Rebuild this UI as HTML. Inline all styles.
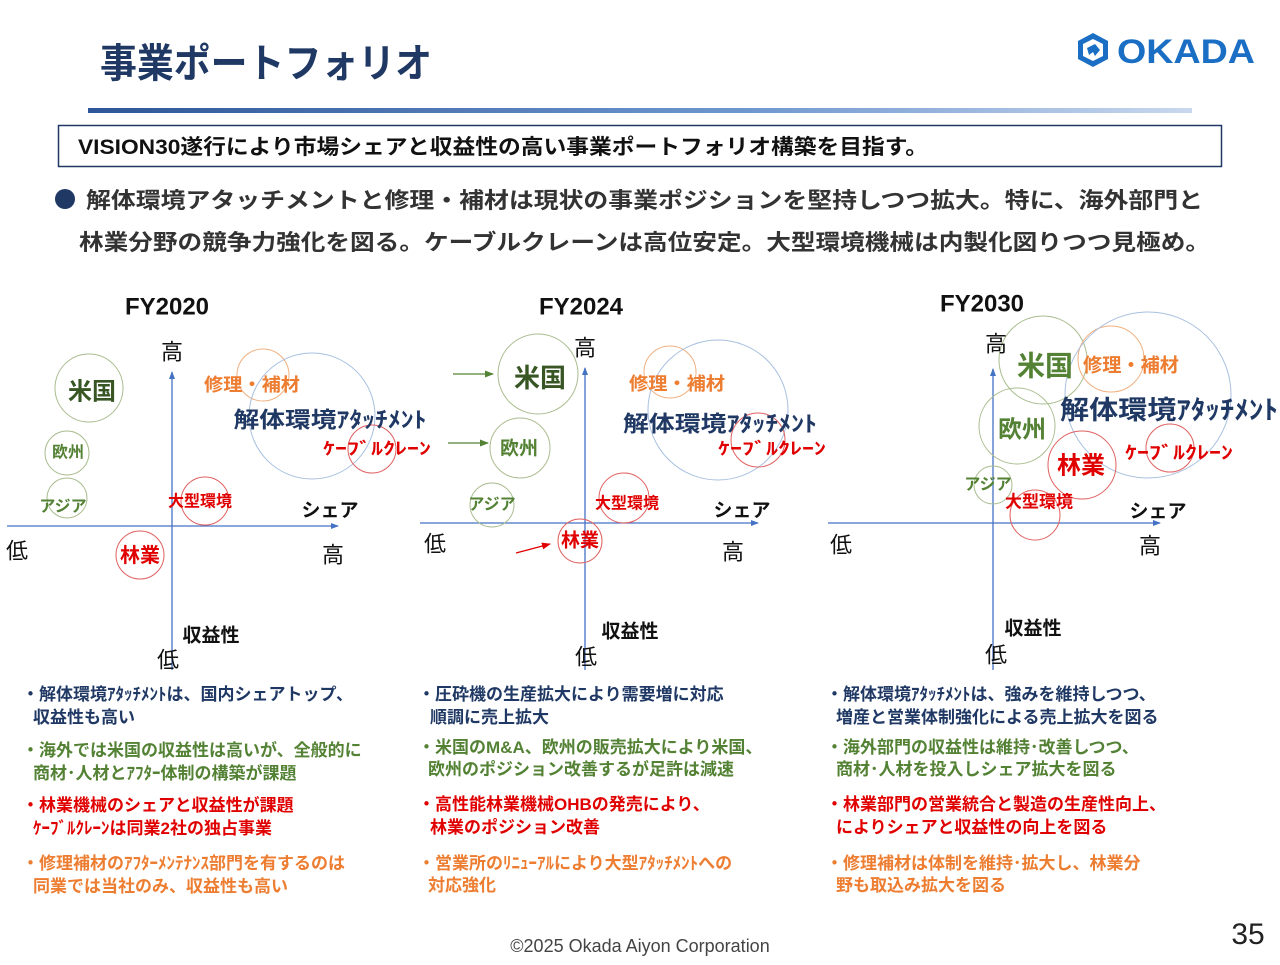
<!DOCTYPE html>
<html><head><meta charset="utf-8"><style>
html,body{margin:0;padding:0;background:#fff;}
body{width:1280px;height:960px;position:relative;overflow:hidden;font-family:"Liberation Sans","Noto Sans CJK JP",sans-serif;}
svg text{font-family:"Liberation Sans","Noto Sans CJK JP",sans-serif;}
</style></head><body>
<svg width="1280" height="960" viewBox="0 0 1280 960" xmlns="http://www.w3.org/2000/svg">
<defs>
<linearGradient id="g" x1="0" x2="1"><stop offset="0" stop-color="#2e5597"/><stop offset="0.6" stop-color="#6f97cf"/><stop offset="1" stop-color="#c9d8ee"/></linearGradient>
<marker id="ab" markerWidth="8" markerHeight="8" refX="7" refY="4" orient="auto" markerUnits="userSpaceOnUse"><path d="M0,1 L8,4 L0,7z" fill="#4472c4"/></marker>
<marker id="ag" markerWidth="9" markerHeight="9" refX="8" refY="4.5" orient="auto" markerUnits="userSpaceOnUse"><path d="M0,1 L9,4.5 L0,8z" fill="#548235"/></marker>
<marker id="ar" markerWidth="9" markerHeight="9" refX="8" refY="4.5" orient="auto" markerUnits="userSpaceOnUse"><path d="M0,1 L9,4.5 L0,8z" fill="#e00000"/></marker>
</defs>
<text x="100" y="77" font-size="40" font-weight="bold" fill="#1f3864" textLength="332" lengthAdjust="spacingAndGlyphs">事業ポートフォリオ</text>
<rect x="88" y="108" width="1104" height="5" fill="url(#g)"/>
<g fill="#1a6fc4">
<path d="M1093,33 L1108,41 L1108,59 L1093,67 L1078,59 L1078,41z M1093,39 L1083,44 L1083,56 L1093,61 L1103,56 L1103,44z" fill-rule="evenodd"/>
<path d="M1087,48 L1095,44 L1100,50 L1095,56 L1093,52 L1089,55z"/>
<text x="1117" y="63" font-size="34" font-weight="bold" textLength="138" lengthAdjust="spacingAndGlyphs">OKADA</text>
</g>
<rect x="58.5" y="125.5" width="1163" height="41" fill="#fff" stroke="#1f3864" stroke-width="1.5"/>
<text x="78" y="154" font-size="21" font-weight="bold" fill="#111" textLength="850" lengthAdjust="spacingAndGlyphs">VISION30遂行により市場シェアと収益性の高い事業ポートフォリオ構築を目指す。</text>
<circle cx="65" cy="199" r="10" fill="#1f3864"/>
<text x="86" y="208" font-size="22" font-weight="bold" fill="#333" textLength="1117" lengthAdjust="spacingAndGlyphs">解体環境アタッチメントと修理・補材は現状の事業ポジションを堅持しつつ拡大。特に、海外部門と</text>
<text x="79" y="250" font-size="22" font-weight="bold" fill="#333" textLength="1131" lengthAdjust="spacingAndGlyphs">林業分野の競争力強化を図る。ケーブルクレーンは高位安定。大型環境機械は内製化図りつつ見極め。</text>

<g font-weight="bold" text-anchor="middle" dominant-baseline="central">
<text x="167" y="307" font-size="24" fill="#111">FY2020</text>
<line x1="7" y1="526" x2="338" y2="526" stroke="#4472c4" stroke-width="1.3" marker-end="url(#ab)"/>
<line x1="172" y1="670" x2="172" y2="372" stroke="#4472c4" stroke-width="1.3" marker-end="url(#ab)"/>
<g fill="none" stroke-width="1">
<circle cx="89" cy="388" r="34" stroke="#a9bd8f"/>
<circle cx="67" cy="453" r="22" stroke="#a9bd8f"/>
<circle cx="67" cy="498" r="20" stroke="#a9bd8f"/>
<circle cx="205" cy="501" r="24" stroke="#e06060"/>
<circle cx="140" cy="555" r="24" stroke="#e06060"/>
<circle cx="263" cy="375" r="26" stroke="#f0b080"/>
<circle cx="312" cy="416" r="63" stroke="#a8c0e0"/>
<circle cx="372" cy="449" r="24" stroke="#e06060"/>
</g>
<text x="92" y="392" font-size="24" fill="#375623">米国</text>
<text x="68" y="453" font-size="16" fill="#548235">欧州</text>
<text x="63" y="507" font-size="16" fill="#548235">アジア</text>
<text x="252" y="385" font-size="18" fill="#ed7d31" textLength="96" lengthAdjust="spacingAndGlyphs">修理・補材</text>
<text x="330" y="420" font-size="22" fill="#1f3864" textLength="193" lengthAdjust="spacingAndGlyphs">解体環境ｱﾀｯﾁﾒﾝﾄ</text>
<text x="377" y="449" font-size="17" fill="#e00000" textLength="108" lengthAdjust="spacingAndGlyphs">ｹｰﾌﾞﾙｸﾚｰﾝ</text>
<text x="200" y="502" font-size="16" fill="#e00000">大型環境</text>
<text x="140" y="556" font-size="20" fill="#e00000">林業</text>
<g font-weight="normal" fill="#111" font-size="22">
<text x="172" y="352">高</text><text x="17" y="551">低</text><text x="333" y="555">高</text><text x="168" y="660">低</text>
</g>
<text x="330" y="511" font-size="19" fill="#111">シェア</text>
<text x="211" y="636" font-size="19" fill="#111">収益性</text>

<text x="581" y="307" font-size="24" fill="#111">FY2024</text>
<line x1="420" y1="523" x2="758" y2="523" stroke="#4472c4" stroke-width="1.3" marker-end="url(#ab)"/>
<line x1="585" y1="670" x2="585" y2="368" stroke="#4472c4" stroke-width="1.3" marker-end="url(#ab)"/>
<g fill="none" stroke-width="1">
<circle cx="538" cy="374" r="40" stroke="#a9bd8f"/>
<circle cx="520" cy="448" r="30" stroke="#a9bd8f"/>
<circle cx="492" cy="505" r="22" stroke="#a9bd8f"/>
<circle cx="624" cy="498" r="25" stroke="#e06060"/>
<circle cx="580" cy="541" r="22" stroke="#e06060"/>
<circle cx="670" cy="372" r="26" stroke="#f0b080"/>
<circle cx="718" cy="410" r="70" stroke="#a8c0e0"/>
<circle cx="758" cy="440" r="27" stroke="#e06060"/>
</g>
<line x1="453" y1="374" x2="493" y2="374" stroke="#548235" stroke-width="1.3" marker-end="url(#ag)"/>
<line x1="448" y1="443" x2="488" y2="443" stroke="#548235" stroke-width="1.3" marker-end="url(#ag)"/>
<line x1="516" y1="553" x2="550" y2="544" stroke="#e00000" stroke-width="1.3" marker-end="url(#ar)"/>
<text x="540" y="378" font-size="26" fill="#375623">米国</text>
<text x="519" y="449" font-size="19" fill="#548235">欧州</text>
<text x="492" y="505" font-size="16" fill="#548235">アジア</text>
<text x="677" y="384" font-size="18" fill="#ed7d31" textLength="96" lengthAdjust="spacingAndGlyphs">修理・補材</text>
<text x="720" y="424" font-size="22" fill="#1f3864" textLength="194" lengthAdjust="spacingAndGlyphs">解体環境ｱﾀｯﾁﾒﾝﾄ</text>
<text x="772" y="449" font-size="17" fill="#e00000" textLength="108" lengthAdjust="spacingAndGlyphs">ｹｰﾌﾞﾙｸﾚｰﾝ</text>
<text x="627" y="504" font-size="16" fill="#e00000">大型環境</text>
<text x="580" y="541" font-size="19" fill="#e00000">林業</text>
<g font-weight="normal" fill="#111" font-size="22">
<text x="585" y="348">高</text><text x="435" y="544">低</text><text x="733" y="552">高</text><text x="586" y="657">低</text>
</g>
<text x="742" y="511" font-size="19" fill="#111">シェア</text>
<text x="630" y="632" font-size="19" fill="#111">収益性</text>

<text x="982" y="304" font-size="24" fill="#111">FY2030</text>
<line x1="828" y1="523" x2="1160" y2="523" stroke="#4472c4" stroke-width="1.3" marker-end="url(#ab)"/>
<line x1="993" y1="670" x2="993" y2="369" stroke="#4472c4" stroke-width="1.3" marker-end="url(#ab)"/>
<g fill="none" stroke-width="1">
<circle cx="1043" cy="360" r="44" stroke="#a9bd8f"/>
<circle cx="1111" cy="359" r="33" stroke="#f0b080"/>
<circle cx="1148" cy="395" r="83" stroke="#a8c0e0"/>
<circle cx="1017" cy="426" r="38" stroke="#a9bd8f"/>
<circle cx="1082" cy="465" r="34" stroke="#e06060"/>
<circle cx="1170" cy="448" r="24" stroke="#e06060"/>
<circle cx="993" cy="485" r="19" stroke="#a9bd8f"/>
<circle cx="1035" cy="515" r="25" stroke="#e06060"/>
</g>
<text x="1045" y="366" font-size="28" fill="#548235">米国</text>
<text x="1131" y="366" font-size="19" fill="#ed7d31" textLength="96" lengthAdjust="spacingAndGlyphs">修理・補材</text>
<text x="1169" y="410" font-size="26" fill="#1f3864" textLength="218" lengthAdjust="spacingAndGlyphs">解体環境ｱﾀｯﾁﾒﾝﾄ</text>
<text x="1022" y="430" font-size="24" fill="#548235">欧州</text>
<text x="1081" y="466" font-size="24" fill="#e00000">林業</text>
<text x="1179" y="453" font-size="18" fill="#e00000" textLength="108" lengthAdjust="spacingAndGlyphs">ｹｰﾌﾞﾙｸﾚｰﾝ</text>
<text x="988" y="485" font-size="16" fill="#548235">アジア</text>
<text x="1039" y="502" font-size="17" fill="#e00000">大型環境</text>
<g font-weight="normal" fill="#111" font-size="22">
<text x="996" y="344">高</text><text x="841" y="545">低</text><text x="1150" y="546">高</text><text x="996" y="655">低</text>
</g>
<text x="1158" y="512" font-size="19" fill="#111">シェア</text>
<text x="1033" y="629" font-size="19" fill="#111">収益性</text>
</g>

<g font-size="17" font-weight="bold">
<g fill="#1f3864"><text x="22" y="700">・解体環境ｱﾀｯﾁﾒﾝﾄは、国内シェアトップ、</text><text x="33" y="723">収益性も高い</text></g>
<g fill="#548235"><text x="22" y="756">・海外では米国の収益性は高いが、全般的に</text><text x="33" y="779">商材･人材とｱﾌﾀｰ体制の構築が課題</text></g>
<g fill="#e00000"><text x="22" y="811">・林業機械のシェアと収益性が課題</text><text x="33" y="834">ｹｰﾌﾞﾙｸﾚｰﾝは同業2社の独占事業</text></g>
<g fill="#ed7d31"><text x="22" y="869">・修理補材のｱﾌﾀｰﾒﾝﾃﾅﾝｽ部門を有するのは</text><text x="33" y="892">同業では当社のみ、収益性も高い</text></g>

<g fill="#1f3864"><text x="418" y="700">・圧砕機の生産拡大により需要増に対応</text><text x="430" y="723">順調に売上拡大</text></g>
<g fill="#548235"><text x="418" y="753">・米国のM&amp;A、欧州の販売拡大により米国、</text><text x="428" y="775">欧州のポジション改善するが足許は減速</text></g>
<g fill="#e00000"><text x="418" y="810">・高性能林業機械OHBの発売により、</text><text x="430" y="833">林業のポジション改善</text></g>
<g fill="#ed7d31"><text x="418" y="869">・営業所のﾘﾆｭｰｱﾙにより大型ｱﾀｯﾁﾒﾝﾄへの</text><text x="428" y="891">対応強化</text></g>

<g fill="#1f3864"><text x="826" y="700">・解体環境ｱﾀｯﾁﾒﾝﾄは、強みを維持しつつ、</text><text x="836" y="723">増産と営業体制強化による売上拡大を図る</text></g>
<g fill="#548235"><text x="826" y="753">・海外部門の収益性は維持･改善しつつ、</text><text x="836" y="775">商材･人材を投入しシェア拡大を図る</text></g>
<g fill="#e00000"><text x="826" y="810">・林業部門の営業統合と製造の生産性向上、</text><text x="836" y="833">によりシェアと収益性の向上を図る</text></g>
<g fill="#ed7d31"><text x="826" y="869">・修理補材は体制を維持･拡大し、林業分</text><text x="836" y="891">野も取込み拡大を図る</text></g>
</g>

<text x="640" y="952" font-size="18" fill="#444" text-anchor="middle">©2025 Okada Aiyon Corporation</text>
<text x="1248" y="944" font-size="30" fill="#222" text-anchor="middle">35</text>
</svg>
</body></html>
